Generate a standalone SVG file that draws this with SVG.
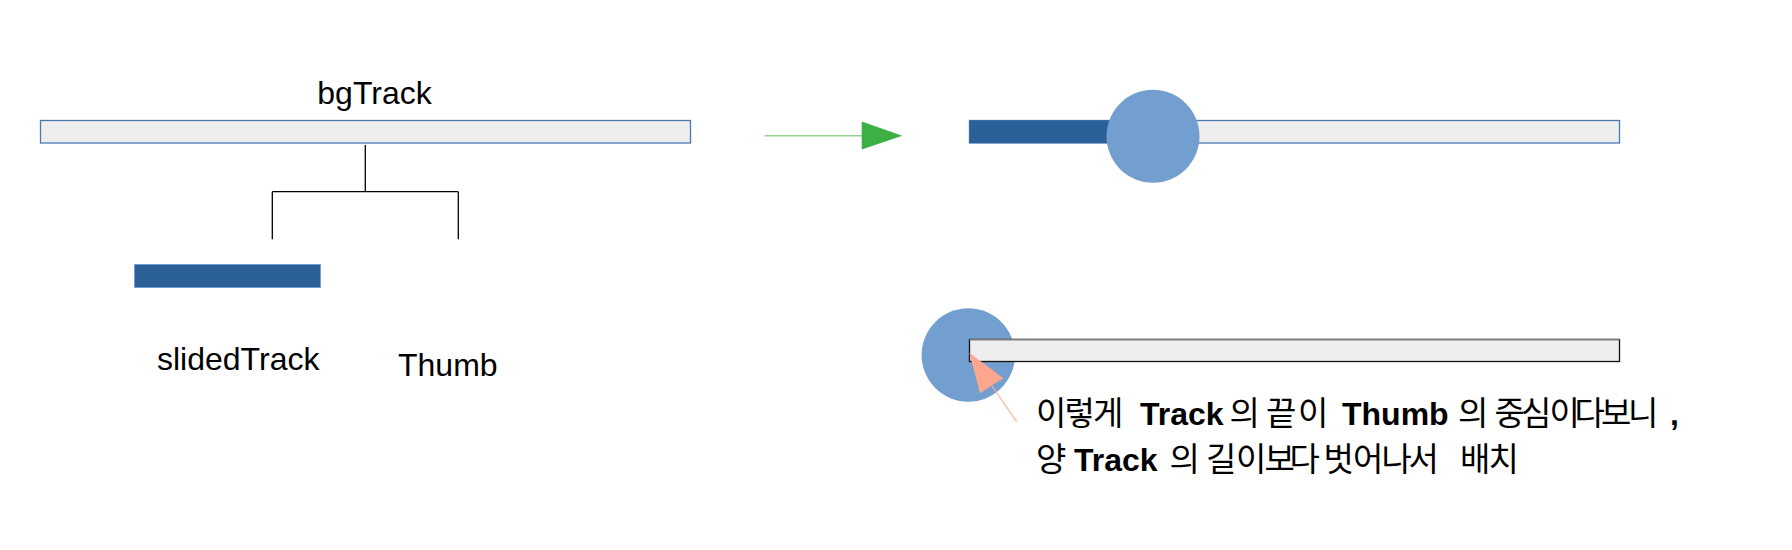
<svg xmlns="http://www.w3.org/2000/svg" width="1792" height="550" viewBox="0 0 1792 550">
<defs>
<style>
.lbl{font-family:"Liberation Sans","Noto Sans CJK KR",sans-serif;font-size:32px;fill:#000}
.ko{font-family:"Noto Sans CJK KR","Liberation Sans",sans-serif;font-size:33px;fill:#000}
.b{font-family:"Liberation Sans","Noto Sans CJK KR",sans-serif;font-weight:bold;font-size:32px}
.track{fill:#eeeeee;stroke:#4a78b5;stroke-width:1.3}
.slided{fill:#2c6099;stroke:#729fcf;stroke-width:1}
.thumb{fill:#729fcf}
.tree{stroke:#000;stroke-width:1.3;fill:none}
</style>
</defs>
<rect width="1792" height="550" fill="#ffffff"/>

<g id="bgTrack">
<rect class="track" x="40.5" y="120.5" width="650" height="22.5"/>
<text class="lbl" x="374.5" y="104" text-anchor="middle">bgTrack</text>
</g>

<g id="slidedTrack">
<rect class="slided" x="134.5" y="264.5" width="186" height="23"/>
<text class="lbl" x="157" y="370">slidedTrack</text>
</g>

<g id="Thumb">
<text class="lbl" x="398" y="376">Thumb</text>
</g>

<g id="sliderNormal">
<rect class="track" x="969.5" y="120.5" width="650" height="22.5"/>
<rect x="969.5" y="120.5" width="184" height="22.5" fill="#2c6099"/>
<circle class="thumb" cx="1153" cy="136.3" r="46.5"/>
</g>

<g id="sliderEdge">
<circle class="thumb" cx="968.3" cy="355" r="46.7"/>
<rect x="969.5" y="339.5" width="650" height="22" fill="#eeeeee" stroke="#111" stroke-width="1.3"/>
<line x1="969.5" y1="339.5" x2="1619.5" y2="339.5" stroke="#7a7a7a" stroke-width="1.5"/>
</g>

<g id="note">
<text class="ko" y="425"><tspan x="1036 1064.5 1093">이렇게</tspan><tspan class="b" x="1140">Track</tspan><tspan x="1229.5">의</tspan><tspan x="1266 1298">끝이</tspan><tspan class="b" x="1342">Thumb</tspan><tspan x="1458">의</tspan><tspan x="1494.5 1521 1549.5 1574.5 1601 1628">중심이다보니</tspan><tspan class="b" x="1670">,</tspan></text>
<text class="ko" y="471"><tspan x="1036">양</tspan><tspan class="b" x="1074">Track</tspan><tspan x="1169.5">의</tspan><tspan x="1206 1236 1264.5 1289.5">길이보다</tspan><tspan x="1323.5 1353 1381.5 1408.5">벗어나서</tspan><tspan x="1460 1488.5">배치</tspan></text>
</g>

<g id="connectors">
<path class="tree" d="M365.3 145 V191.7 M272.3 191.7 H458.3 M272.3 191.7 V239.3 M458.3 191.7 V239.3"/>
<line x1="764.5" y1="135.8" x2="863" y2="135.8" stroke="#93d393" stroke-width="1.6"/>
<polygon points="861.7,121.5 902.3,135.8 861.7,149.5" fill="#3daf45"/>
<line x1="1016.7" y1="421.7" x2="992" y2="386" stroke="#ffb3a0" stroke-width="1.2"/>
<polygon points="969.3,352.7 1003.3,378.3 980,393.3" fill="#ffa68f"/>
</g>
</svg>
